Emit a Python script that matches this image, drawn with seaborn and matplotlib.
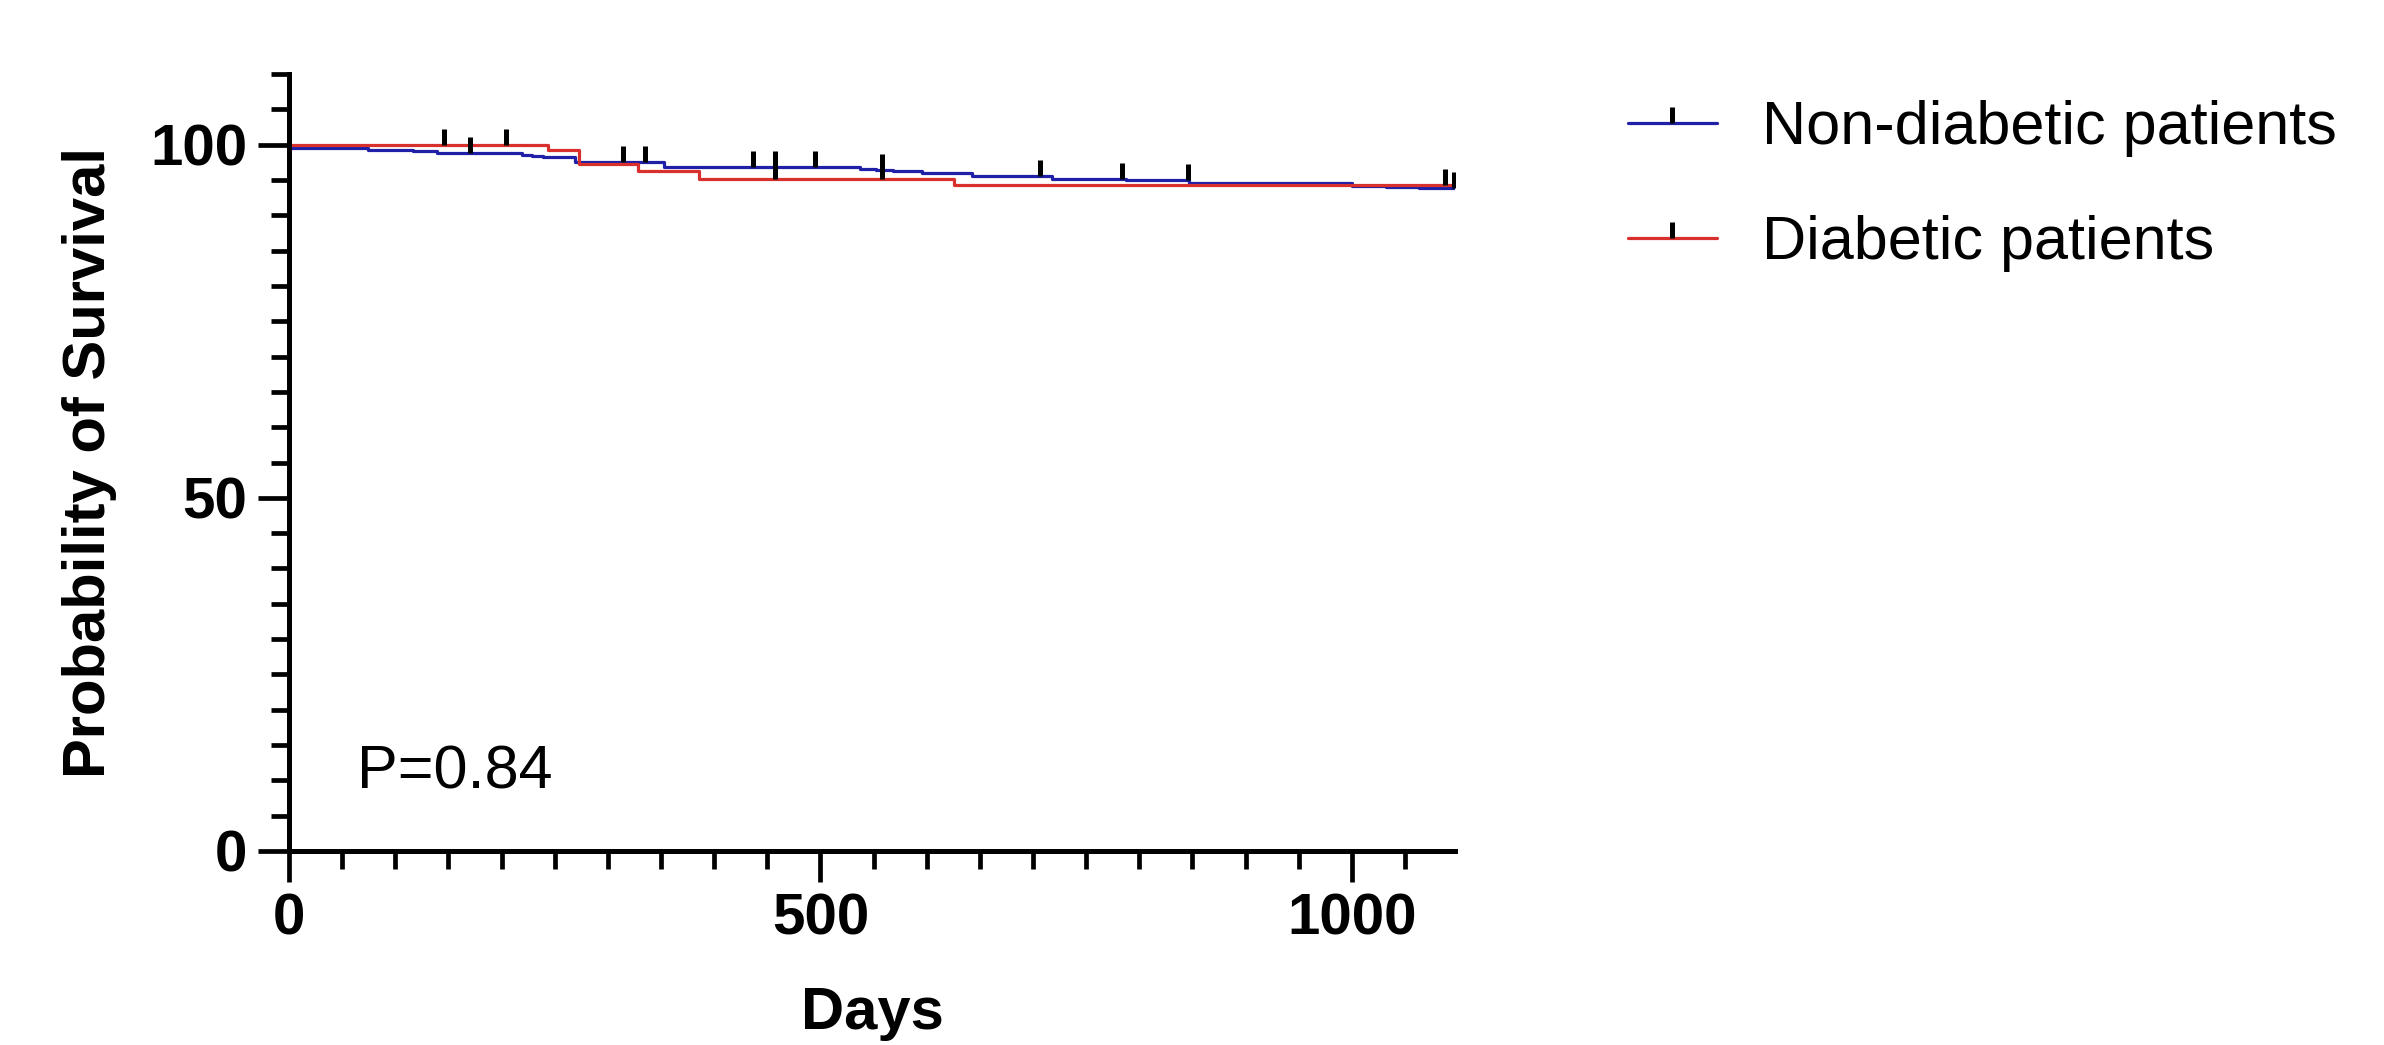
import numpy as np
import pandas as pd
import matplotlib
matplotlib.use("Agg")
import matplotlib.pyplot as plt
from matplotlib.lines import Line2D
from matplotlib.ticker import MultipleLocator
import seaborn as sns

# -------------------------------------------------------
# Data
# -------------------------------------------------------

groups = ["Non-diabetic patients", "Diabetic patients"]

nd_days = [0, 2, 74, 117, 139, 219, 229, 239, 269, 353, 537, 552, 568, 596,
           643, 718, 787, 847, 1000, 1032, 1063, 1096]
nd_surv = [100, 99.5, 99.3, 99.05, 98.8, 98.6, 98.4, 98.2, 97.6, 96.9, 96.6,
           96.4, 96.2, 96.0, 95.6, 95.2, 95.0, 94.5, 94.2, 94.0, 93.8, 93.8]
nd_censored = [170, 314, 335, 437, 457, 495, 558, 707, 784, 846, 1096]

d_days = [0, 244, 273, 328, 386, 626, 1096]
d_surv = [100, 99.2, 97.2, 96.2, 95.2, 94.3, 94.3]
d_censored = [146, 204, 457, 558, 1088]

p_text = "P=0.84"

colors = {"Non-diabetic patients": "#1f1fa8", "Diabetic patients": "#d8302c"}

# -------------------------------------------------------
# Build table
# -------------------------------------------------------

df = pd.concat([
    pd.DataFrame({"Days": nd_days, "Survival": nd_surv, "Group": groups[0]}),
    pd.DataFrame({"Days": d_days, "Survival": d_surv, "Group": groups[1]}),
], ignore_index=True)


def censor_values(days, surv, cens):
    idx = np.searchsorted(days, cens, side="right") - 1
    return np.array(surv)[idx]


# -------------------------------------------------------
# Plot
# -------------------------------------------------------

sns.set_style("ticks")
plt.rcParams["font.family"] = ["Liberation Sans", "DejaVu Sans"]
plt.rcParams["text.color"] = "black"
plt.rcParams["xtick.color"] = "black"
plt.rcParams["ytick.color"] = "black"
plt.rcParams["axes.labelcolor"] = "black"

fig = plt.figure(figsize=(23.84, 10.45), dpi=100)
ax = fig.add_axes([289 / 2384, 1 - 851 / 1045, (1455 - 289) / 2384, (851 - 74) / 1045])

sns.lineplot(data=df, x="Days", y="Survival", hue="Group", palette=colors,
             drawstyle="steps-post", estimator=None, linewidth=2.3,
             legend=False, ax=ax)

for g, days, surv, cens in [(groups[0], nd_days, nd_surv, nd_censored),
                            (groups[1], d_days, d_surv, d_censored)]:
    ax.plot(cens, censor_values(days, surv, cens), linestyle="none",
            marker=2, markersize=11.5, markeredgewidth=3.6, color="black")

ax.set_xlim(0, 1097)
ax.set_ylim(0, 110)
ax.xaxis.set_major_locator(MultipleLocator(500))
ax.xaxis.set_minor_locator(MultipleLocator(50))
ax.yaxis.set_major_locator(MultipleLocator(50))
ax.yaxis.set_minor_locator(MultipleLocator(5))

ax.tick_params(which="major", length=22, width=3.4, direction="out", pad=8)
ax.tick_params(which="minor", length=13, width=3.4, direction="out")
for lab in ax.get_xticklabels() + ax.get_yticklabels():
    lab.set_fontsize(42)
    lab.set_fontweight("bold")

for side in ["top", "right"]:
    ax.spines[side].set_visible(False)
for side in ["left", "bottom"]:
    ax.spines[side].set_linewidth(3.6)
    ax.spines[side].set_color("black")

ax.set_xlabel("Days", fontsize=43, fontweight="bold", labelpad=28)
ax.set_ylabel("Probability of Survival", fontsize=43, fontweight="bold", labelpad=24)

ax.text(64, 11, p_text, fontsize=44, ha="left", va="center")

handles = [Line2D([0], [0], color=colors[g], linewidth=2.3, marker=2,
                  markersize=11.5, markeredgewidth=3.6, markeredgecolor="black")
           for g in groups]
fig.legend(handles, groups, loc="upper left",
           bbox_to_anchor=(1628 / 2384, 1 - 100 / 1045), frameon=False,
           fontsize=44, handlelength=1.45, handletextpad=0.75,
           labelspacing=0.95, numpoints=1, borderpad=0, borderaxespad=0)

fig.savefig("out.png", dpi=100)
